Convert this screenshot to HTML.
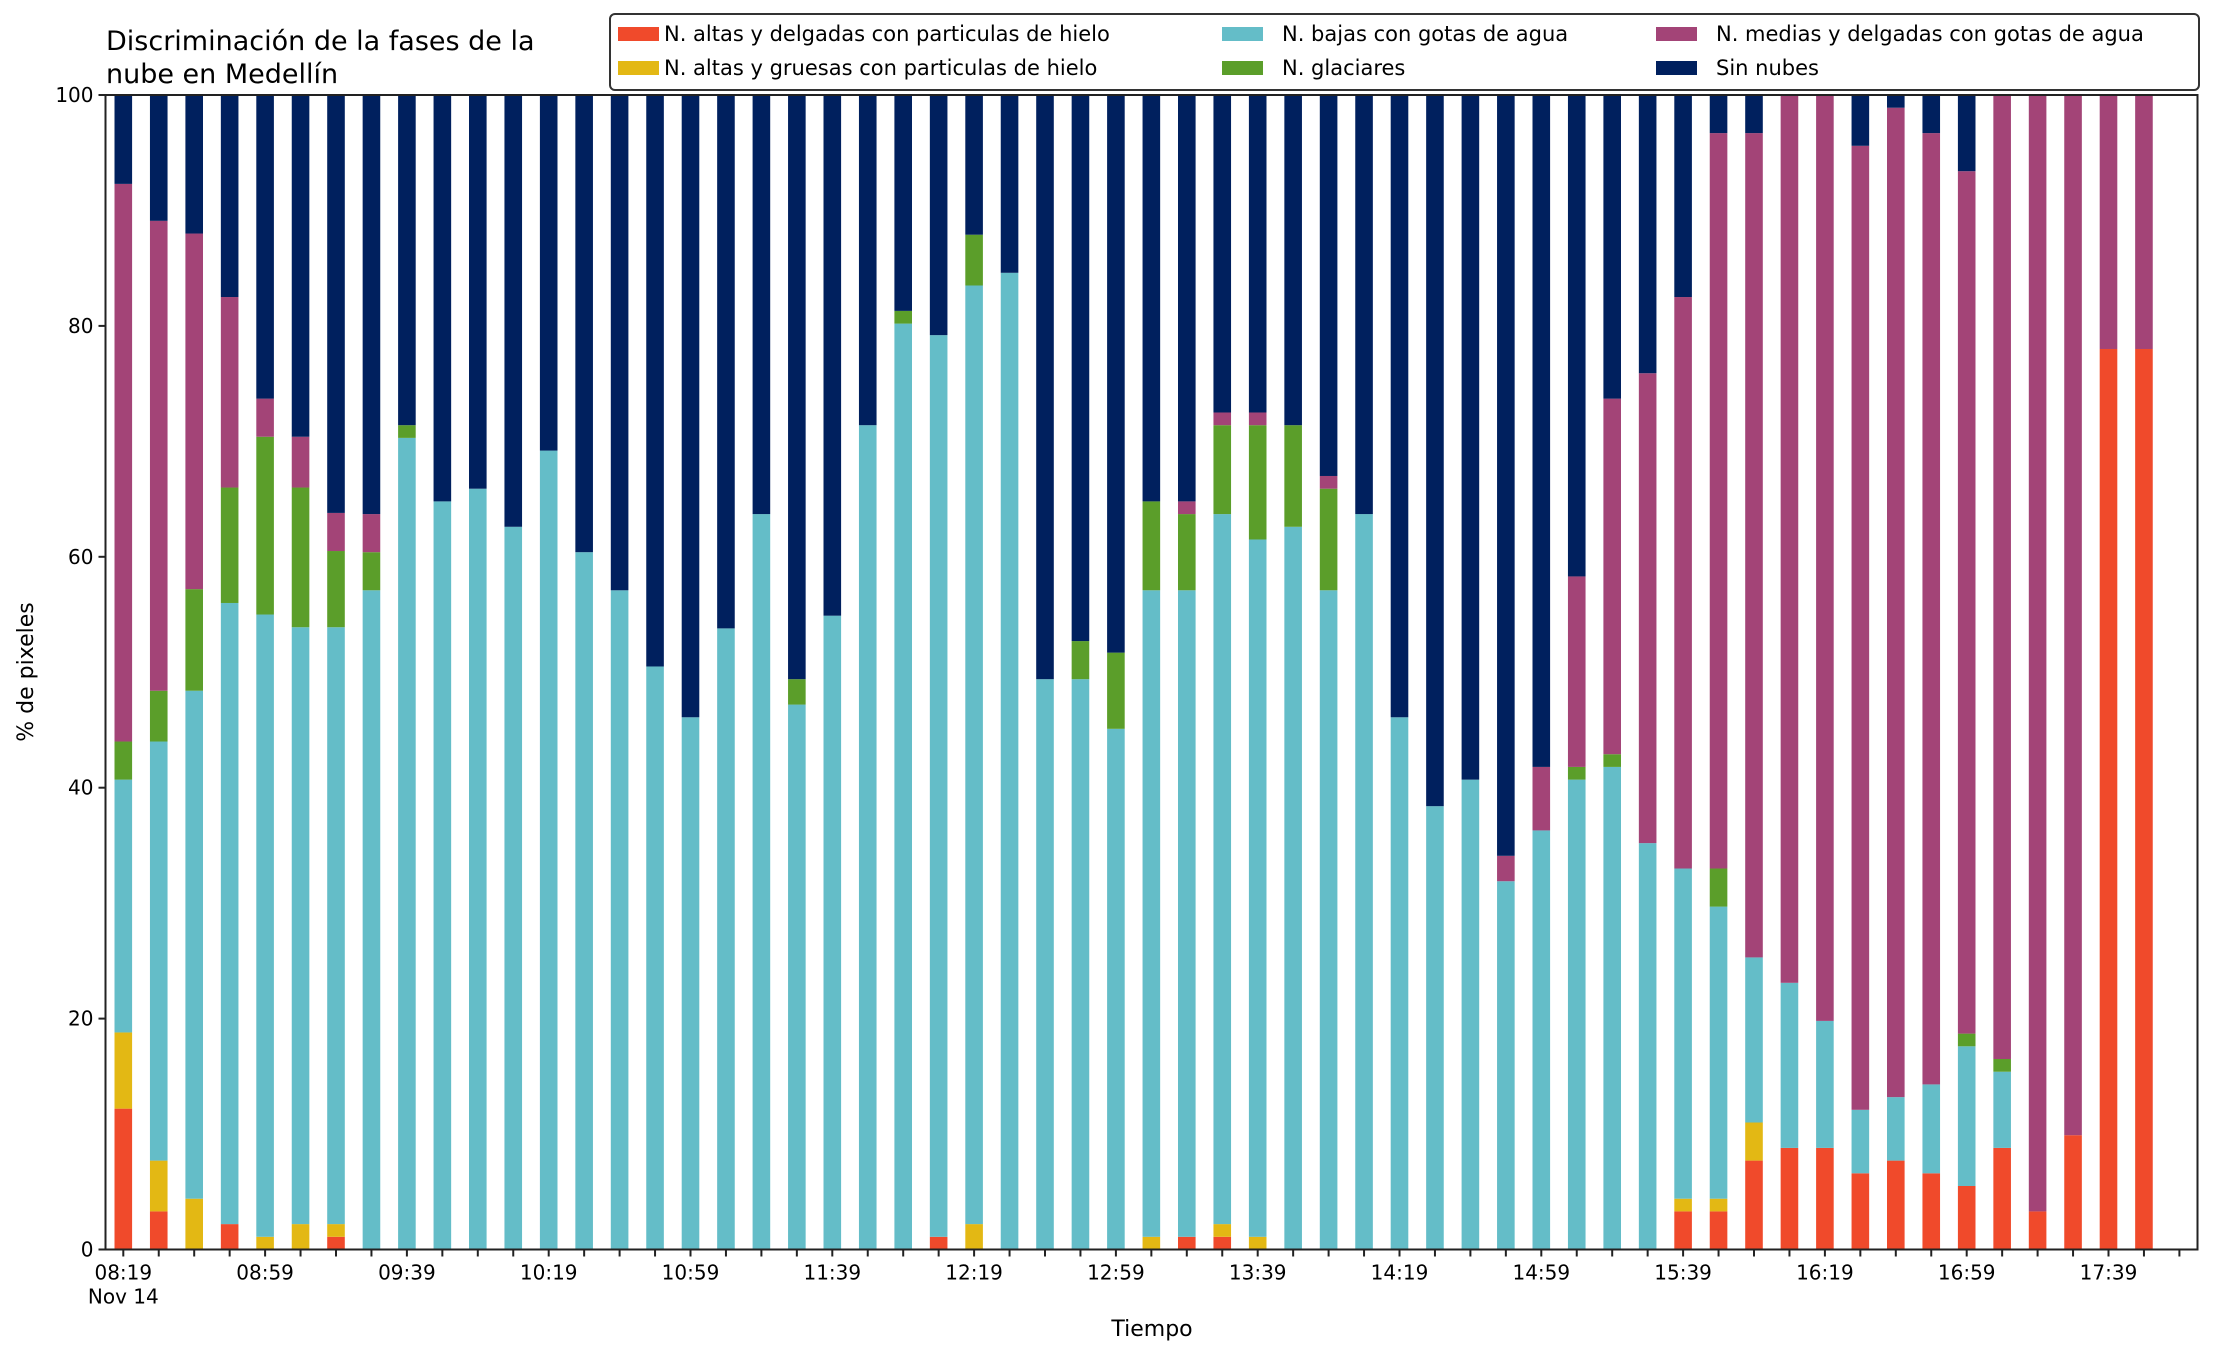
<!DOCTYPE html>
<html><head><meta charset="utf-8"><style>
body{margin:0;background:#fff}
svg text{font-family:"DejaVu Sans","Liberation Sans",sans-serif;fill:#000}
</style></head><body>
<svg id="chart" width="2216" height="1355" xmlns="http://www.w3.org/2000/svg">
<g id="bars"></g>
<g id="axes"></g>
<text x="106" y="50" font-size="27">Discriminación de la fases de la</text>
<text x="106" y="83" font-size="27">nube en Medellín</text>
<text transform="translate(33,672) rotate(-90)" text-anchor="middle" font-size="22">% de pixeles</text>
<text x="1152" y="1336" text-anchor="middle" font-size="22">Tiempo</text>
<g>
<rect x="610" y="14" width="1589" height="76" rx="5" fill="#fff" stroke="#333" stroke-width="2"/>
<g id="legend-items"></g>
</g>
</svg>
<script>
const times=["08:19","08:59","09:39","10:19","10:59","11:39","12:19","12:59","13:39","14:19","14:59","15:39","16:19","16:59","17:39"];
const yTicks=[0,20,40,60,80,100];
const seriesNames=["N. altas y delgadas con particulas de hielo","N. altas y gruesas con particulas de hielo","N. bajas con gotas de agua","N. glaciares","N. medias y delgadas con gotas de agua","Sin nubes"];
const colors=["#F04A2B","#E3B814","#64BDC8","#5B9E2A","#A34477","#00205E"];
const red=[12.2,3.3,0,2.2,0,0,1.1,0,0,0,0,0,0,0,0,0,0,0,0,0,0,0,0,1.1,0,0,0,0,0,0,1.1,1.1,0,0,0,0,0,0,0,0,0,0,0,0,3.3,3.3,7.7,8.8,8.8,6.6,7.7,6.6,5.5,8.8,3.3,9.9,78,78];
const yellow=[6.6,4.4,4.4,0,1.1,2.2,1.1,0,0,0,0,0,0,0,0,0,0,0,0,0,0,0,0,0,2.2,0,0,0,0,1.1,0,1.1,1.1,0,0,0,0,0,0,0,0,0,0,0,1.1,1.1,3.3,0,0,0,0,0,0,0,0,0,0,0];
const cyan=[21.9,36.3,44,53.8,53.9,51.7,51.7,57.1,70.3,64.8,65.9,62.6,69.2,60.4,57.1,50.5,46.1,53.8,63.7,47.2,54.9,71.4,80.2,78.1,81.3,84.6,49.4,49.4,45.1,56,56,61.5,60.4,62.6,57.1,63.7,46.1,38.4,40.7,31.9,36.3,40.7,41.8,35.2,28.6,25.3,14.3,14.3,11,5.5,5.5,7.7,12.1,6.6,0,0,0,0];
const green=[3.3,4.4,8.8,10,15.4,12.1,6.6,3.3,1.1,0,0,0,0,0,0,0,0,0,0,2.2,0,0,1.1,0,4.4,0,0,3.3,6.6,7.7,6.6,7.7,9.9,8.8,8.8,0,0,0,0,0,0,1.1,1.1,0,0,3.3,0,0,0,0,0,0,1.1,1.1,0,0,0,0];
const magenta=[48.3,40.7,30.8,16.5,3.3,4.4,3.3,3.3,0,0,0,0,0,0,0,0,0,0,0,0,0,0,0,0,0,0,0,0,0,0,1.1,1.1,1.1,0,1.1,0,0,0,0,2.2,5.5,16.5,30.8,40.7,49.5,63.7,71.4,76.9,80.2,83.5,85.7,82.4,74.7,83.5,96.7,90.1,22,22];
const NS="http://www.w3.org/2000/svg";
const L=105.5,R=2197.5,T=95,B=1249.5;
const x0=123.3,step=35.45,bw=17.6;
function xS(i){return x0+i*step;}
function yS(v){return B-(v/100)*(B-T);}
function mk(tag,attrs,parent){const e=document.createElementNS(NS,tag);for(const k in attrs)e.setAttribute(k,attrs[k]);parent.appendChild(e);return e;}
const bars=document.getElementById('bars');
const stacks=[red,yellow,cyan,green,magenta];
for(let i=0;i<red.length;i++){
  let base=0;
  for(let s=0;s<6;s++){
    const v=s<5?stacks[s][i]:Math.max(0,100-base);
    if(v<=0)continue;
    const r=mk('rect',{x:xS(i)-bw/2,y:yS(base+v),width:bw,height:yS(base)-yS(base+v),fill:colors[s]},bars);
    
    
    base+=v;
  }
}
const ax=document.getElementById('axes');
const fr=mk('rect',{x:L,y:T,width:R-L,height:B-T,fill:'none',stroke:'#222','stroke-width':2},ax);


yTicks.forEach(v=>{
  mk('line',{x1:L-7,x2:L,y1:yS(v),y2:yS(v),stroke:'#222','stroke-width':2},ax);
  const t=mk('text',{x:L-12,y:yS(v)+7,'text-anchor':'end','font-size':20},ax);
  t.textContent=v;
  
  
});
for(let i=0;i<red.length+1;i++){
  mk('line',{x1:xS(i),x2:xS(i),y1:B,y2:B+7,stroke:'#222','stroke-width':2},ax);
}
times.forEach((tl,k)=>{
  const t=mk('text',{x:xS(k*4),y:B+30,'text-anchor':'middle','font-size':20},ax);
  t.textContent=tl;
  
  
});
const nv=mk('text',{x:xS(0),y:B+54,'text-anchor':'middle','font-size':20},ax);
nv.textContent="Nov 14";


const li=document.getElementById('legend-items');
const pos=[[618,34],[618,68],[1222,34],[1222,68],[1656,34],[1656,68]];
const order=[0,1,2,3,4,5];
order.forEach((s,k)=>{
  const [px,py]=pos[k];
  const r=mk('rect',{x:px,y:py-7,width:41,height:14,fill:colors[s]},li);
  
  
  const t=mk('text',{x:px+(k<2?46:60),y:py+7,'font-size':21},li);
  t.textContent=seriesNames[s];
  
  
});
</script>
</body></html>
